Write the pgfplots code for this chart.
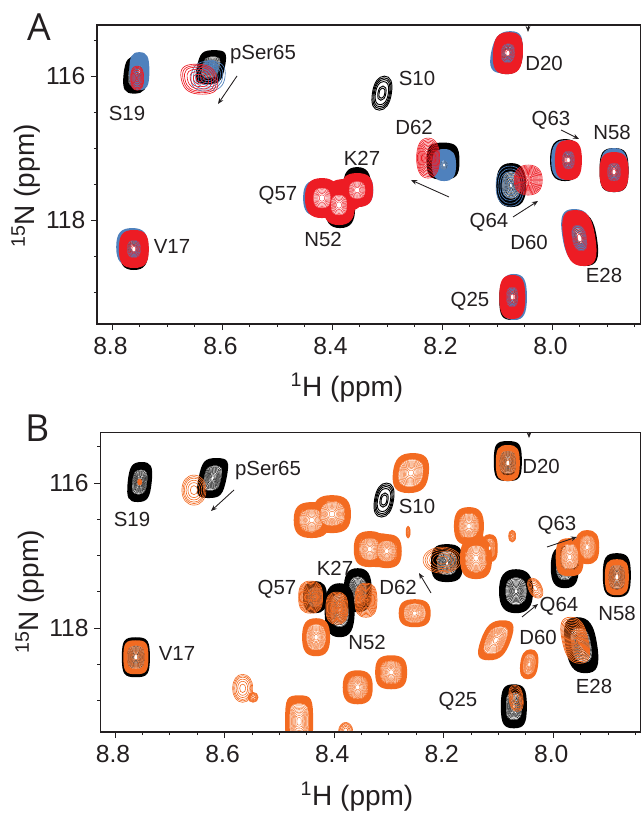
\documentclass[border=0pt]{standalone}
\usepackage{fontspec}
\setmainfont{Liberation Sans}
\newfontfamily\panelfont{Open Sans}
\usepackage{pgfplots}
\usetikzlibrary{arrows.meta}
\pgfplotsset{compat=1.18}
\definecolor{ink}{HTML}{231F20}
\definecolor{pblack}{HTML}{000000}
\definecolor{pblue}{HTML}{4F81BD}
\definecolor{pred}{HTML}{ED1C24}
\definecolor{porange}{HTML}{F36B21}
\def\pkpath#1{%
 \pgfmathsetmacro\pka{\pkW*0.75*#1}\pgfmathsetmacro\pkb{\pkH*0.75*#1}%
 \pgfmathsetmacro\pkA{\pka*\pkK}\pgfmathsetmacro\pkB{\pkb*\pkK}%
 \pgfpathmoveto{\pgfqpoint{\pka pt}{0pt}}%
 \pgfpathcurveto{\pgfqpoint{\pka pt}{\pkB pt}}{\pgfqpoint{\pkA pt}{\pkb pt}}{\pgfqpoint{0pt}{\pkb pt}}%
 \pgfpathcurveto{\pgfqpoint{-\pkA pt}{\pkb pt}}{\pgfqpoint{-\pka pt}{\pkB pt}}{\pgfqpoint{-\pka pt}{0pt}}%
 \pgfpathcurveto{\pgfqpoint{-\pka pt}{-\pkB pt}}{\pgfqpoint{-\pkA pt}{-\pkb pt}}{\pgfqpoint{0pt}{-\pkb pt}}%
 \pgfpathcurveto{\pgfqpoint{\pkA pt}{-\pkb pt}}{\pgfqpoint{\pka pt}{-\pkB pt}}{\pgfqpoint{\pka pt}{0pt}}%
 \pgfpathclose}
% #1 colour, #2 inner edge of the solid band, #3 rings, #4 size of the white centre
\def\pksolid#1#2#3#4{%
 \pgftransformcm{1}{0}{\pkC}{1}{\pgfpointorigin}%
 \pgfsetstrokecolor{#1}\pgfsetfillcolor{#1}\pgfsetlinewidth{0.3pt}%
 \pgfseteorule\pkpath{1}\pkpath{#2}\pgfusepath{fill}%
 \pgfsetnonzerorule
 \pgfsetfillcolor{white}\pkpath{#4}\pgfusepath{fill}%
 \foreach \s in #3{\pkpath{\s}\pgfusepath{stroke}}}
% contour lines only
\def\pkopen#1#2#3{%
 \pgftransformcm{1}{0}{\pkC}{1}{\pgfpointorigin}%
 \pgfsetstrokecolor{#1}\pgfsetfillcolor{#1}\pgfsetlinewidth{#2}%
 \foreach \s in #3{\pkpath{\s}\pgfusepath{stroke}}}
% one solid blob, to join neighbouring peaks
\def\pkplain#1{%
 \pgftransformcm{1}{0}{\pkC}{1}{\pgfpointorigin}%
 \pgfsetfillcolor{#1}\pkpath{1}\pgfusepath{fill}}
% centre of a peak in a merged group, redrawn on top
\def\pkcentre#1#2#3{%
 \pgftransformcm{1}{0}{\pkC}{1}{\pgfpointorigin}%
 \pgfsetstrokecolor{#1}\pgfsetfillcolor{white}\pgfsetlinewidth{0.3pt}%
 \pkpath{#2}\pgfusepath{fill}%
 \foreach \s in #3{\pkpath{\s}\pgfusepath{stroke}}}
\def\ringsA{0.6,0.54,0.48,0.43,0.38,0.33,0.28,0.23,0.17,0.11}
\def\ringsB{0.28,0.23,0.18,0.13}
\def\ringsR{0.44,0.38,0.32,0.26,0.2,0.13}
\def\ringsO{0.66,0.6,0.55,0.5,0.45,0.4,0.35,0.29,0.23,0.15}
\def\ringsCen{0.48,0.42,0.36,0.3,0.24,0.16}
\def\ringsC{1,0.9,0.8,0.68,0.42,0.3}
\def\ringsD{1,0.86,0.72,0.58,0.44,0.3,0.16}
\def\ringsE{1,0.9,0.8,0.66,0.5,0.32,0.16}
\def\ringsF{1,0.93,0.86,0.79,0.72,0.65,0.58,0.51,0.44,0.37,0.3,0.23,0.16,0.09}
\def\ringsG{1,0.9,0.8,0.66,0.5,0.3}
\pgfdeclareplotmark{pkblack}{\pksolid{pblack}{0.62}{\ringsA}{0.1}}
\pgfdeclareplotmark{pkblue}{\pksolid{pblue}{0.3}{\ringsB}{0.1}}
\pgfdeclareplotmark{pkred}{\pksolid{pred}{0.46}{\ringsR}{0.13}}
\pgfdeclareplotmark{pkorange}{\pksolid{porange}{0.68}{\ringsO}{0.14}}
\pgfdeclareplotmark{opblack}{\pkopen{pblack}{0.7pt}{\ringsC}}
\pgfdeclareplotmark{opblue}{\pkopen{pblue}{0.5pt}{\ringsD}}
\pgfdeclareplotmark{opred}{\pkopen{pred}{0.5pt}{\ringsE}}
\pgfdeclareplotmark{opredd}{\pkopen{pred}{0.45pt}{\ringsF}}
\pgfdeclareplotmark{oporange}{\pkopen{porange}{0.45pt}{\ringsG}}
\pgfdeclareplotmark{oporanged}{\pkopen{porange}{0.55pt}{\ringsF}}
\pgfdeclareplotmark{flblack}{\pkplain{pblack}}
\pgfdeclareplotmark{flblue}{\pkplain{pblue}}
\pgfdeclareplotmark{flred}{\pkplain{pred}}
\pgfdeclareplotmark{florange}{\pkplain{porange}}
\pgfdeclareplotmark{cnred}{\pkcentre{pred}{0.5}{\ringsCen}}
\pgfdeclareplotmark{cnorange}{\pkcentre{porange}{0.6}{\ringsO}}
\pgfplotsset{
 pk/.style={only marks,scatter,mark=#1,
  visualization depends on={\thisrow{w}\as\pkW},
  visualization depends on={\thisrow{h}\as\pkH},
  visualization depends on={\thisrow{c}\as\pkC},
  visualization depends on={\thisrow{k}\as\pkK}},
 nmr/.style={scale only axis,x dir=reverse,y dir=reverse,clip marker paths=true,axis on top,
  axis line style={ink,line width=0.8pt},
  every tick/.style={ink,line width=0.7pt},
  xtick={8.8,8.6,8.4,8.2,8.0},xticklabels={8.8,8.6,8.4,8.2,8.0},
  minor xtick={8.75,8.7,8.65,8.55,8.5,8.45,8.35,8.3,8.25,8.15,8.1,8.05,7.95,7.9,7.85},
  ytick={116,118},yticklabels={116,118},
  minor ytick={115.5,116.5,117,117.5,118.5,119},
  major tick length=4.5pt,minor tick length=2.4pt,
  tick align=outside,xtick pos=bottom,ytick pos=left,
  xticklabel style={font=\fontsize{18.5}{18.5}\selectfont,text=ink,inner sep=0pt,yshift=-5.5pt,xshift=-1.5pt},
  yticklabel style={font=\fontsize{18.5}{18.5}\selectfont,text=ink,inner sep=0pt,xshift=-4pt},
 }}
\begin{document}
\begin{tikzpicture}
\path[use as bounding box] (0,0) rectangle (480.75pt,609.75pt);
\begin{axis}[nmr,at={(72.75pt,366.75pt)},anchor=south west,width=408pt,height=224.25pt,
 xmin=7.839,xmax=8.828,ymin=115.29,ymax=119.44]
\addplot[pk=flblack] table {
x y w h c k
8.377 117.650 17 15 0 0.7
};
\addplot[pk=pkblack] table {
x y w h c k
8.757 115.979 12.5 19 0.1 0.78
8.621 115.875 14 17 0.2 0.85
8.081 115.681 15 21 0.05 0.7
8.199 117.179 16.5 18.5 0 0.8
8.075 117.512 15 22 0 0.7
7.977 117.165 15 21 0 0.72
7.888 117.304 14.5 22 0 0.8
8.422 117.692 15 18 0 0.7
8.386 117.831 15 20 0 0.7
8.355 117.540 14 20 0 0.7
7.948 118.261 16 27 -0.15 0.75
8.073 119.093 13 21 0 0.8
8.761 118.413 14.5 20 0 0.72
};
\addplot[pk=opblack] table {
x y w h c k
8.310 116.236 9.5 17 0.15 0.65
};
\addplot[pk=flblue] table {
x y w h c k
8.377 117.650 17 14 0 0.7
};
\addplot[pk=pkblue] table {
x y w h c k
8.751 115.931 10 19 0 0.78
8.084 115.667 15 21 0.2 0.72
8.197 117.234 12 16 0 0.72
7.975 117.165 15 20 0 0.72
7.888 117.304 14 22 0 0.72
8.426 117.692 15 18 0 0.72
8.390 117.803 14 17 0 0.72
8.353 117.581 15 16 0 0.72
7.953 118.219 16 27 -0.15 0.75
8.070 119.065 13 23 0 0.75
8.764 118.372 16 19 0 0.72
};
\addplot[pk=opblue] table {
x y w h c k
8.626 116.000 17 15 0.1 0.7
8.621 115.875 7 7 0 0.6
8.077 117.526 14 20 0 0.65
};
\addplot[pk=opred] table {
x y w h c k
8.755 116.028 6.5 12 0 0.7
8.642 116.042 18 15 -0.2 0.72
};
\addplot[pk=flred] table {
x y w h c k
8.377 117.650 18 16 0 0.72
};
\addplot[pk=pkred] table {
x y w h c k
8.081 115.681 15 21 0.05 0.75
7.971 117.165 13.5 20 0 0.75
7.888 117.331 14.5 20 0 0.75
8.419 117.692 17 20 0 0.7
8.388 117.789 16 20 0 0.7
8.355 117.581 16 17 0 0.72
7.951 118.247 16 28 -0.15 0.75
8.073 119.065 13 22 0 0.75
8.761 118.399 15 19 0 0.75
};
\addplot[pk=cnred] table {
x y w h c k
8.419 117.692 17 20 0 0.7
8.388 117.789 16 20 0 0.7
8.355 117.581 16 17 0 0.72
};
\addplot[pk=opredd] table {
x y w h c k
8.226 117.137 11.5 20 0 0.65
8.044 117.442 14 15 0 0.65
};
\end{axis}
\begin{axis}[nmr,at={(75.2pt,60.75pt)},anchor=south west,width=405.5pt,height=224.8pt,
 xmin=7.840,xmax=8.827,ymin=115.30,ymax=119.43]
\addplot[pk=pkblack] table {
x y w h c k
8.755 115.986 12 20 0.1 0.8
8.622 115.931 14 20 0.2 0.85
8.083 115.697 14 20 0 0.85
8.194 117.103 16 19 0 0.78
7.979 117.159 14 21 0 0.72
7.884 117.269 14 22 0 0.8
8.068 117.490 17 22 0 0.7
7.949 118.234 16 28 -0.15 0.75
8.072 119.076 13 22 0 0.8
8.762 118.400 14 20 0 0.85
8.357 117.476 14 22 0 0.72
8.390 117.752 15 27 0 0.72
8.435 117.572 12 16 0 0.72
};
\addplot[pk=opblack] table {
x y w h c k
8.309 116.234 9.5 17 0.15 0.65
};
\addplot[pk=florange] table {
x y w h c k
8.422 116.469 20 15 0 0.7
8.320 116.924 18 17 0 0.75
8.145 116.828 11 12 0 0.7
};
\addplot[pk=pkorange] table {
x y w h c k
8.260 115.862 18 20 0.1 0.72
8.441 116.510 18 18 0 0.72
8.404 116.428 19 19 0 0.72
8.335 116.910 16 18 0 0.72
8.304 116.938 15 17 0 0.72
8.154 116.593 15 19 0 0.72
8.141 117.034 16 21 0 0.72
8.116 116.897 8 14 0 0.72
8.083 115.724 12 18 0 0.8
7.970 117.021 14 19 0 0.8
7.938 116.883 12 17 0 0.72
7.884 117.297 12 18 0 0.8
8.105 118.166 15 20 0.35 0.75
8.044 118.497 9 15 0.1 0.68
8.762 118.400 12.5 17 0 0.85
8.464 119.283 14 26 0 0.9
8.433 118.124 14 19 0 0.72
8.253 117.793 16 14 0 0.72
8.296 118.607 16 17 0 0.75
8.357 118.814 15 17 0 0.72
8.349 119.434 9 7 0 0.7
7.982 119.517 16 19 0.1 0.7
};
\addplot[pk=cnorange] table {
x y w h c k
8.441 116.510 18 18 0 0.72
8.404 116.428 19 19 0 0.72
8.335 116.910 16 18 0 0.72
8.304 116.938 15 17 0 0.72
8.154 116.593 15 19 0 0.72
8.141 117.034 16 21 0 0.72
7.970 117.021 14 19 0 0.8
7.938 116.883 12 17 0 0.72
8.296 118.607 16 17 0 0.75
8.357 118.814 15 17 0 0.72
};
\addplot[pk=oporanged] table {
x y w h c k
8.443 117.572 12 16 0 0.72
8.395 117.724 11 16 0 0.72
8.342 117.614 11 17 0 0.72
7.960 118.166 13 23 -0.2 0.72
};
\addplot[pk=oporange] table {
x y w h c k
8.755 115.986 2 3 0 0.6
8.656 116.097 12 15 0 0.6
8.265 116.676 2 6 0 0.6
8.075 116.731 3.5 6 0 0.6
8.203 117.062 19 13 0 0.55
7.935 115.297 8 3 0 0.6
8.033 117.448 7 10 -0.3 0.6
8.068 118.966 7 13 -0.1 0.7
8.567 118.828 10 14 0 0.6
8.548 118.952 5 5 0 0.6
8.379 119.407 7 8 0 0.5
};
\end{axis}
\begin{scope}[x=0.75pt,y=-0.75pt,yshift=609.75pt]
\tikzset{lab/.style={font=\fontsize{15.3}{15.3}\selectfont,text=ink,inner sep=0pt},
 alab/.style={font=\fontsize{21}{21}\selectfont,text=ink,inner sep=0pt},
 arr/.style={draw=ink,line width=0.65pt,-{Stealth[length=4.5pt,width=3.6pt]}}}
\node[font=\panelfont\fontsize{28}{28}\selectfont,text=ink,inner sep=0pt] at (39,27) {A};
\node[font=\panelfont\fontsize{28}{28}\selectfont,text=ink,inner sep=0pt] at (38,428) {B};
\node[alab] at (347,388) {\textsuperscript{1}H (ppm)};
\node[alab,rotate=90] at (26,186) {\textsuperscript{15}N (ppm)};
\node[alab] at (357,797) {\textsuperscript{1}H (ppm)};
\node[alab,rotate=90] at (30,592) {\textsuperscript{15}N (ppm)};
\foreach \X/\Y/\T in {127/113/S19,263/55/pSer65,172/246/V17,278/195/Q57,323/239/N52,362/158/K27,417/78/S10,414/127/D62,544/63/D20,551/120/Q63,612/132/N58,489/222/Q64,529/242/D60,604/275/E28,470/301/Q25,
 132/519/S19,268/471/pSer65,277/589/Q57,335/568/K27,417/506/S10,398/587/D62,541/466/D20,557/525/Q63,559/606/Q64,617/613/N58,367/642/N52,538/637/D60,594/686/E28,458/701/Q25,177/653/V17}
 {\node[lab] at (\X,\Y) {\T};}
\foreach \xa/\ya/\xb/\yb in {237/76/218/104,561/130/579/139,449/197/411/180,513/217/538/201,528/25/528/32,
 234/490/211/511,431/593/419/573,547/547/577/537,522/617/538/604,529/432/529/438}
 {\draw[arr] (\xa,\ya) -- (\xb,\yb);}
\end{scope}
\end{tikzpicture}
\end{document}
